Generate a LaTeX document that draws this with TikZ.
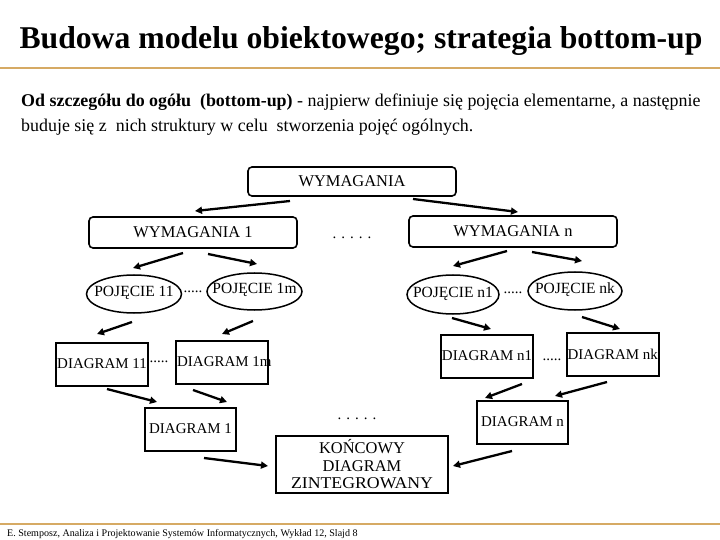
\documentclass[tikz,border=0pt]{standalone}
\usepackage{fontspec}
\setmainfont{Liberation Serif}
\usetikzlibrary{shapes.geometric,calc,arrows.meta}
\definecolor{tanline}{RGB}{214,170,100}
\begin{document}
\begin{tikzpicture}[x=1bp,y=-1bp,
  lbl/.style={font=\fontsize{15}{17.5}\selectfont, inner sep=0pt},
  elbl/.style={font=\fontsize{15.6}{17.5}\selectfont, inner sep=0pt},
  rbox/.style={font=\fontsize{16.5}{19}\selectfont, inner sep=0pt,draw,line width=1.6bp,rounded corners=4bp,minimum width=208bp,minimum height=30bp},
  sbox/.style={draw,line width=2bp,inner sep=0pt,minimum width=92bp,minimum height=43bp},
  ell/.style={draw,ellipse,line width=1.5bp,inner sep=0pt,minimum width=95bp,minimum height=38bp},
  arr/.style={line width=2.3bp,-{Triangle[length=7bp,width=7bp]}},
  rule/.style={tanline,line width=1.5bp}
]
\useasboundingbox (0,0) rectangle (720,540);
\fill[white] (0,0) rectangle (720,540);
% title and text
\node[font=\fontsize{31.8}{36}\selectfont\bfseries, inner sep=0pt, anchor=base] (title) at (361,49) {Budowa modelu obiektowego; strategia bottom-up};
\coordinate (r1a) at (0,68); \coordinate (r1b) at (720,68);
\draw[rule] (r1a) -- (r1b);
\node[font=\fontsize{18}{21}\selectfont, inner sep=0pt, anchor=base west] (par1) at (21,107) {\textbf{Od szczegółu do ogółu\ \ (bottom-up)} - najpierw definiuje się pojęcia elementarne, a następnie};
\node[font=\fontsize{18}{21}\selectfont, inner sep=0pt, anchor=base west] (par2) at (21,132) {buduje się z\ \ nich struktury w celu\ \ stworzenia pojęć ogólnych.};
% requirement boxes
\node[rbox, minimum height=29bp] (wym) at (352,181.5) {WYMAGANIA};
\node[rbox, minimum height=31bp] (w1) at (193,232.5) {WYMAGANIA 1};
\node[rbox, minimum height=31bp] (wn) at (513,231.5) {WYMAGANIA n};
\node[lbl] (dw) at (352,238) {. . . . .};
% concepts
\node[ell] (p11) at (134,294) {};
\node[elbl] (p11t) at (134,293) {POJĘCIE 11};
\node[ell, minimum height=37bp] (p1m) at (254.5,291.5) {};
\node[elbl] (p1mt) at (254.5,290) {POJĘCIE 1m};
\node[lbl] (dp1) at (193,292) {.....};
\node[ell, minimum width=92bp, minimum height=39bp] (pn1) at (453,294.5) {};
\node[elbl] (pn1t) at (453,293.5) {POJĘCIE n1};
\node[ell, minimum width=94bp] (pnk) at (575,291) {};
\node[elbl] (pnkt) at (575,290) {POJĘCIE nk};
\node[lbl] (dpn) at (513,293) {.....};
% diagrams
\node[sbox] (d11) at (102,364.5) {};
\node[lbl] (d11t) at (102,364) {DIAGRAM 11};
\node[sbox] (d1m) at (222,362.5) {};
\node[lbl, anchor=west] (d1mt) at (177,362) {DIAGRAM 1m};
\node[lbl] (dd1) at (159,362) {.....};
\node[sbox, minimum width=91bp] (d1) at (190.5,429.5) {};
\node[lbl] (d1t) at (190.5,429) {DIAGRAM 1};
\node[sbox] (dn1) at (487,356.5) {};
\node[lbl] (dn1t) at (487,356) {DIAGRAM n1};
\node[sbox] (dnk) at (613,354.5) {};
\node[lbl, anchor=west] (dnkt) at (567.5,354) {DIAGRAM nk};
\node[lbl] (ddn) at (552,360) {.....};
\node[sbox, minimum width=91bp] (dn) at (522.5,422.5) {};
\node[lbl] (dnt) at (522.5,422) {DIAGRAM n};
\node[lbl] (dk) at (357,419) {. . . . .};
\node[sbox, minimum width=172bp, minimum height=57bp] (kon) at (362,464.5) {};
\node[font=\fontsize{16.5}{17.5}\selectfont, inner sep=0pt, align=center] (kont) at (362,464.5) {KOŃCOWY\\DIAGRAM\\\scalebox{1.08}[1]{ZINTEGROWANY}};
% arrows
\draw[arr] ($(wym)+(-62,19.5)$) -- ($(w1)+(2,-21.5)$);
\draw[arr] ($(wym)+(61,17.5)$) -- ($(wn)+(5,-19.5)$);
\draw[arr] ($(w1)+(-10,20.5)$) -- ($(p11)+(-1,-26)$);
\draw[arr] ($(w1)+(15,21.5)$) -- ($(p1m)+(2.5,-27.5)$);
\draw[arr] ($(wn)+(-6,19.5)$) -- ($(pn1)+(0,-28.5)$);
\draw[arr] ($(wn)+(19,20.5)$) -- ($(pnk)+(7,-30)$);
\draw[arr] ($(p11)+(-2,28)$) -- ($(d11)+(-5,-30.5)$);
\draw[arr] ($(p1m)+(-1.5,29.5)$) -- ($(d1m)+(0,-28.5)$);
\draw[arr] ($(pn1)+(-1,23.5)$) -- ($(dn1)+(4,-27.5)$);
\draw[arr] ($(pnk)+(7,26)$) -- ($(dnk)+(7,-25.5)$);
\draw[arr] ($(d11)+(5,24.5)$) -- ($(d1)+(-33.5,-27.5)$);
\draw[arr] ($(d1m)+(-29,27.5)$) -- ($(d1)+(36.5,-27.5)$);
\draw[arr] ($(dn1)+(35,27.5)$) -- ($(dn)+(-37.5,-24.5)$);
\draw[arr] ($(dnk)+(-6,27.5)$) -- ($(dn)+(32.5,-26.5)$);
\draw[arr] ($(d1)+(13.5,28.5)$) -- ($(kon)+(-94,1.5)$);
\draw[arr] ($(dn)+(-10.5,28.5)$) -- ($(kon)+(91,1.5)$);
% footer
\coordinate (r2a) at (0,524); \coordinate (r2b) at (720,524);
\draw[rule, line width=1.2bp] (r2a) -- (r2b);
\node[font=\fontsize{10.1}{12}\selectfont, inner sep=0pt, anchor=base west] (foot) at (7,536) {E. Stemposz, Analiza i Projektowanie Systemów Informatycznych, Wykład 12, Slajd 8};
\end{tikzpicture}
\end{document}
